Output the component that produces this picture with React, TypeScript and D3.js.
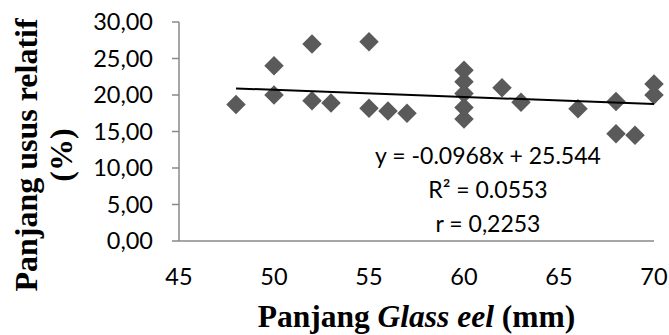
import React from "react";
import * as d3 from "d3";

const lengthMm = [48, 50, 50, 52, 52, 53, 55, 55, 56, 57, 60, 60, 60, 60, 60, 62, 63, 66, 68, 68, 69, 70, 70];
const relGut = [18.7, 24.0, 20.0, 27.0, 19.2, 18.9, 27.3, 18.2, 17.8, 17.5, 23.4, 21.8, 20.2, 18.3, 16.7, 21.0, 19.0, 18.1, 19.1, 14.7, 14.5, 21.5, 20.0];
const xTicks = [45, 50, 55, 60, 65, 70];
const yTicks = [0, 5, 10, 15, 20, 25, 30];
const slope = -0.0968;
const intercept = 25.544;
const trendRange = [48, 70];
const annotation = ["y = -0.0968x + 25.544", "R² = 0.0553", "r = 0,2253"];

const W = 669;
const H = 335;

export default function App() {
  const x = d3.scaleLinear().domain([45, 70]).range([179, 654]);
  const y = d3.scaleLinear().domain([0, 30]).range([241, 22]);
  const fmtY = (v: number) => v.toFixed(2).replace(".", ",");
  const line = d3
    .line<number>()
    .x((d) => x(d))
    .y((d) => y(slope * d + intercept));
  const diamond = d3.symbol().type(d3.symbolSquare).size(190)();
  const axisColor = "#898989";
  const sans = "Lato, 'Open Sans', sans-serif";
  const serif = "'Liberation Serif', 'Times New Roman', serif";

  return (
    <svg
      width={W}
      height={H}
      style={{ position: "absolute", left: 0, top: 0, background: "#fff" }}
    >
      {/* y axis */}
      <line x1={x(45)} x2={x(45)} y1={y(0)} y2={y(30)} stroke={axisColor} strokeWidth={1.5} />
      {yTicks.map((t) => (
        <g key={t}>
          <line x1={x(45) - 7} x2={x(45)} y1={y(t)} y2={y(t)} stroke={axisColor} strokeWidth={1.5} />
          <text
            x={153}
            y={y(t)}
            dy="0.35em"
            textAnchor="end"
            fontFamily={sans}
            fontSize={23.5}
            fill="#000"
          >
            {fmtY(t)}
          </text>
        </g>
      ))}
      {/* x axis */}
      <line x1={x(45)} x2={x(70)} y1={y(0)} y2={y(0)} stroke={axisColor} strokeWidth={1.5} />
      {xTicks.map((t) => (
        <text
          key={t}
          x={x(t)}
          y={285}
          textAnchor="middle"
          fontFamily={sans}
          fontSize={23.5}
          fill="#000"
        >
          {t}
        </text>
      ))}
      {/* points */}
      {lengthMm.map((l, i) => (
        <path
          key={i}
          d={diamond || ""}
          transform={`translate(${x(l)},${y(relGut[i])}) rotate(45)`}
          fill="#5a5a5a"
        />
      ))}
      {/* trend line */}
      <path d={line(trendRange) || ""} stroke="#000" strokeWidth={2} fill="none" />
      {/* annotation */}
      {annotation.map((s, i) => (
        <text
          key={i}
          x={488}
          y={164 + i * 34}
          textAnchor="middle"
          fontFamily={sans}
          fontSize={23}
          fill="#000"
        >
          {s}
        </text>
      ))}
      {/* x title */}
      <text
        x={(x(45) + x(70)) / 2}
        y={327}
        textAnchor="middle"
        fontFamily={serif}
        fontSize={31.5}
        fontWeight="bold"
        fill="#000"
      >
        Panjang <tspan fontStyle="italic">Glass eel</tspan> (mm)
      </text>
      {/* y title */}
      <g transform="translate(37,155) rotate(-90)">
        <text x={0} y={0} textAnchor="middle" fontFamily={serif} fontSize={32} fontWeight="bold" fill="#000">
          Panjang usus relatif
        </text>
        <text x={0} y={35} textAnchor="middle" fontFamily={serif} fontSize={32} fontWeight="bold" fill="#000">
          (%)
        </text>
      </g>
    </svg>
  );
}
